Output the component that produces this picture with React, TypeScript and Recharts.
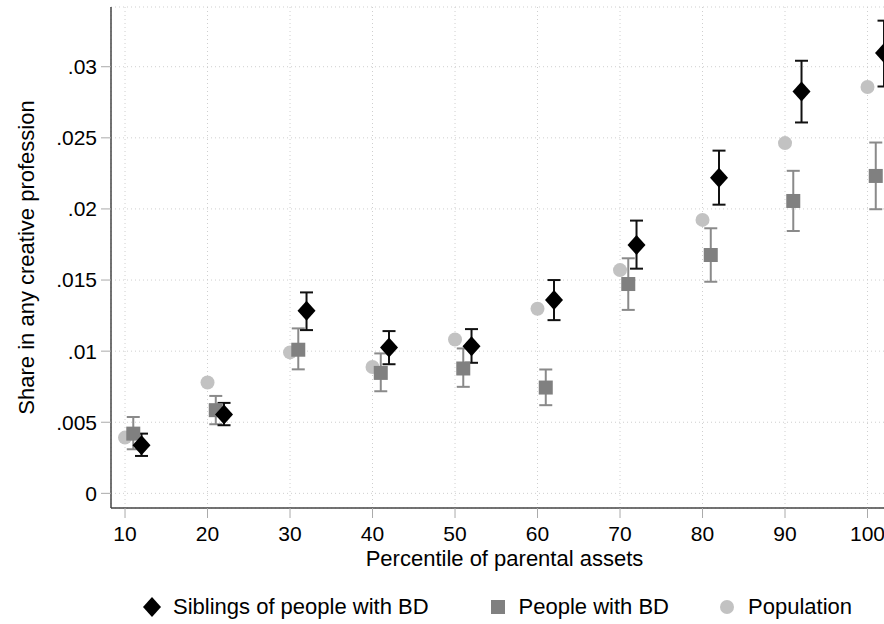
import React from "react";
import {
  ScatterChart,
  Scatter,
  XAxis,
  YAxis,
  CartesianGrid,
  ErrorBar,
  Label,
} from "recharts";

// percentile positions (each series is shifted a little to the right so the marks don't overlap)
const popX = [10, 20, 30, 40, 50, 60, 70, 80, 90, 100];
const bdX = [11, 21, 31, 41, 51, 61, 71, 81, 91, 101];
const sibX = [12, 22, 32, 42, 52, 62, 72, 82, 92, 102];

const sibY = [0.00338, 0.00554, 0.01284, 0.01026, 0.01035, 0.01359, 0.01746, 0.0222, 0.02826, 0.03096];
const sibLo = [0.00263, 0.00479, 0.01148, 0.00908, 0.00918, 0.01218, 0.0158, 0.0203, 0.02608, 0.02861];
const sibHi = [0.0042, 0.00636, 0.01413, 0.01141, 0.01155, 0.015, 0.01918, 0.0241, 0.03042, 0.03324];

const bdY = [0.0042, 0.00585, 0.0101, 0.00847, 0.00878, 0.00744, 0.01472, 0.01676, 0.02056, 0.02232];
const bdLo = [0.0031, 0.00486, 0.00872, 0.00718, 0.00749, 0.0062, 0.0129, 0.01488, 0.01845, 0.01998];
const bdHi = [0.00537, 0.00685, 0.0116, 0.00984, 0.01019, 0.00871, 0.01653, 0.01864, 0.02268, 0.02467];

const popY = [0.00392, 0.0078, 0.00991, 0.00889, 0.01082, 0.01298, 0.0157, 0.01923, 0.02463, 0.02857];

const xTicks = [10, 20, 30, 40, 50, 60, 70, 80, 90, 100];
const yTicks = [0, 0.005, 0.01, 0.015, 0.02, 0.025, 0.03];

const sibData = sibX.map((x, i) => ({ x, y: sibY[i], err: [sibY[i] - sibLo[i], sibHi[i] - sibY[i]] }));
const bdData = bdX.map((x, i) => ({ x, y: bdY[i], err: [bdY[i] - bdLo[i], bdHi[i] - bdY[i]] }));
const popData = popX.map((x, i) => ({ x, y: popY[i] }));

const FONT = "'Liberation Sans', Arial, Helvetica, sans-serif";

const fmtY = (v: number) =>
  v === 0 ? "0" : v.toFixed(3).replace(/0+$/, "").replace(/^0/, "");

const Diamond = (p: any) => (
  <polygon
    points={`${p.cx},${p.cy - 10} ${p.cx + 9},${p.cy} ${p.cx},${p.cy + 10} ${p.cx - 9},${p.cy}`}
    fill="#000"
  />
);
const Square = (p: any) => <rect x={p.cx - 7} y={p.cy - 7} width={14} height={14} fill="#808080" />;
const Dot = (p: any) => <circle cx={p.cx} cy={p.cy} r={7} fill="#c2c2c2" />;

const YTitle = (props: any) => {
  const vb = props.viewBox;
  const cy = vb.y + vb.height / 2;
  return (
    <text
      x={26}
      y={cy}
      transform={`rotate(-90 26 ${cy})`}
      textAnchor="middle"
      dominantBaseline="central"
      fontSize={22}
      fill="#000"
    >
      Share in any creative profession
    </text>
  );
};

const legendItems = [
  { name: "Siblings of people with BD", mark: <polygon points="9,0 18,10 9,20 0,10" fill="#000" />, gap: 60 },
  { name: "People with BD", mark: <rect x={2} y={3} width={14} height={14} fill="#808080" />, gap: 49 },
  { name: "Population", mark: <circle cx={9} cy={10} r={7} fill="#c2c2c2" />, gap: 0 },
];

export default function App() {
  return (
    <div
      style={{
        position: "fixed",
        left: 0,
        top: 0,
        width: 884,
        height: 624,
        overflow: "hidden",
        background: "#fff",
        fontFamily: FONT,
      }}
    >
      <ScatterChart width={910} height={624} margin={{ top: 7, right: 0, bottom: 0, left: 0 }}>
        <CartesianGrid stroke="#cfcfcf" strokeDasharray="1 3" />
        <XAxis
          type="number"
          dataKey="x"
          domain={[8.3, 105.15]}
          allowDataOverflow
          ticks={xTicks}
          height={116}
          tickSize={10}
          tickMargin={8}
          tick={{ fill: "#000", fontSize: 21 }}
          tickLine={{ stroke: "#aaa" }}
          axisLine={{ stroke: "#444", strokeWidth: 1.5 }}
        >
          <Label
            value="Percentile of parental assets"
            position="insideTop"
            offset={42}
            dx={-6}
            style={{ fontSize: 22, fill: "#000" }}
          />
        </XAxis>
        <YAxis
          type="number"
          dataKey="y"
          domain={[-0.00103, 0.0342]}
          allowDataOverflow
          ticks={yTicks}
          width={111}
          tickSize={10}
          tickMargin={4}
          tickFormatter={fmtY}
          tick={{ fill: "#000", fontSize: 21 }}
          tickLine={{ stroke: "#aaa" }}
          axisLine={{ stroke: "#444", strokeWidth: 1.5 }}
        >
          <Label content={YTitle} />
        </YAxis>
        <Scatter data={popData} shape={Dot} isAnimationActive={false} />
        <Scatter data={bdData} shape={Square} isAnimationActive={false}>
          <ErrorBar dataKey="err" direction="y" width={6.5} stroke="#8a8a8a" strokeWidth={2} />
        </Scatter>
        <Scatter data={sibData} shape={Diamond} isAnimationActive={false}>
          <ErrorBar dataKey="err" direction="y" width={6.5} stroke="#111" strokeWidth={2} />
        </Scatter>
      </ScatterChart>
      <div
        style={{
          position: "absolute",
          left: 143,
          top: 594,
          display: "flex",
          alignItems: "center",
          fontSize: 22,
          color: "#000",
        }}
      >
        {legendItems.map((it) => (
          <div key={it.name} style={{ display: "flex", alignItems: "center", marginRight: it.gap }}>
            <svg width={18} height={20} style={{ marginRight: 12 }}>
              {it.mark}
            </svg>
            <span>{it.name}</span>
          </div>
        ))}
      </div>
    </div>
  );
}
